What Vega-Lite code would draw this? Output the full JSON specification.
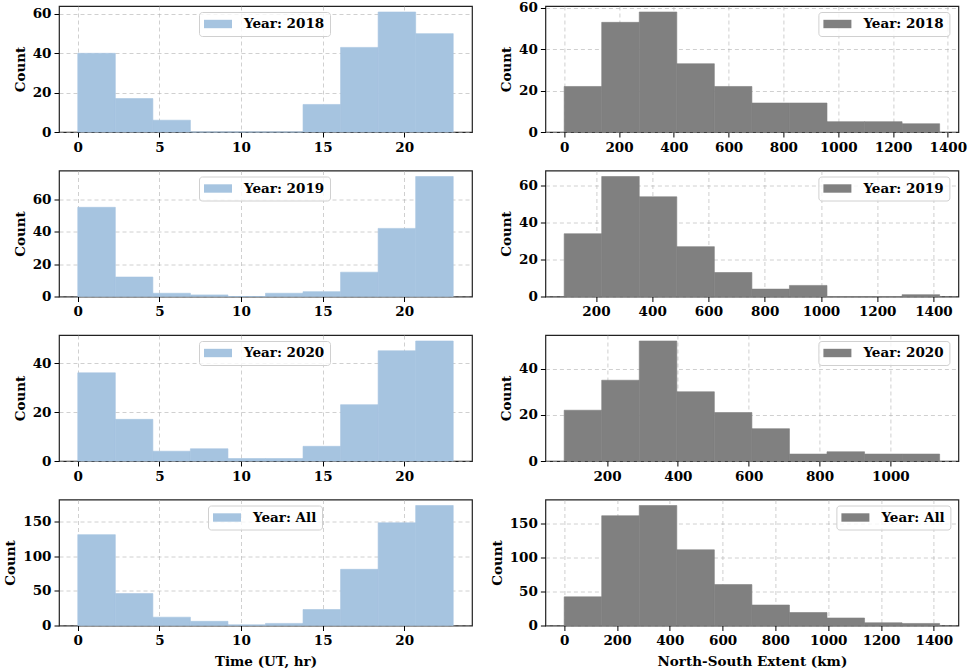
{
  "$schema": "https://vega.github.io/schema/vega-lite/v6.json",
  "padding": {"left": 3, "top": 0, "right": 2, "bottom": 0},
  "background": "white",
  "columns": 2,
  "spacing": {"row": 38.5, "column": 73.4},
  "bounds": "flush",
  "resolve": {"scale": {"x": "independent", "y": "independent", "color": "independent"}, "legend": {"color": "independent"}, "axis": {"x": "independent", "y": "independent"}},
  "config": {
    "font": "DejaVu Serif",
    "style": {"guide-label": {"font": "DejaVu Serif", "fontWeight": "bold"}, "guide-title": {"font": "DejaVu Serif", "fontWeight": "bold"}},
    "view": {"stroke": "#222222", "strokeWidth": 1.2},
    "axis": {"labelFont": "DejaVu Serif", "labelFontWeight": "bold", "labelFontSize": 13.5, "labelColor": "#000000", "titleFont": "DejaVu Serif", "titleFontWeight": "bold", "titleFontSize": 13.5, "titleColor": "#000000", "tickColor": "#000000", "tickSize": 5, "tickWidth": 1, "domain": false, "gridColor": "#b0b0b0", "gridDash": [4, 3], "gridOpacity": 0.6, "labelFlush": false, "labelOverlap": false, "labelPadding": 3, "titlePadding": 5, "format": "d"},
    "axisX": {"labelFont": "DejaVu Serif", "labelFontWeight": "bold", "titlePadding": 7},
    "axisY": {"labelFont": "DejaVu Serif", "labelFontWeight": "bold"},
    "legend": {"labelFont": "DejaVu Serif", "labelFontWeight": "bold", "labelFontSize": 13.5, "labelColor": "#000000", "symbolType": "M-2,-0.6H2V0.6H-2Z", "symbolSize": 196, "symbolOffset": 7, "labelOffset": 19, "symbolStrokeWidth": 0, "symbolOpacity": 1, "padding": 5, "strokeColor": "#d0d0d0", "cornerRadius": 3, "fillColor": "rgba(255,255,255,0.8)", "orient": "none", "title": null}
  },
  "concat": [
    {
      "width": 413, "height": 126,
      "data": {"values": [
        {"start": 0, "end": 2.3, "count": 40, "series": "Year: 2018"},
        {"start": 2.3, "end": 4.6, "count": 17, "series": "Year: 2018"},
        {"start": 4.6, "end": 6.9, "count": 6, "series": "Year: 2018"},
        {"start": 6.9, "end": 9.2, "count": 0, "series": "Year: 2018"},
        {"start": 9.2, "end": 11.5, "count": 0, "series": "Year: 2018"},
        {"start": 11.5, "end": 13.8, "count": 0, "series": "Year: 2018"},
        {"start": 13.8, "end": 16.1, "count": 14, "series": "Year: 2018"},
        {"start": 16.1, "end": 18.4, "count": 43, "series": "Year: 2018"},
        {"start": 18.4, "end": 20.7, "count": 61, "series": "Year: 2018"},
        {"start": 20.7, "end": 23, "count": 50, "series": "Year: 2018"}
      ]},
      "mark": {"type": "bar", "stroke": "#a6c4e0", "strokeWidth": 0.6},
      "encoding": {
        "x": {"field": "start", "type": "quantitative", "scale": {"domain": [-1.15, 24.15], "nice": false, "zero": false}, "axis": {"values": [0, 5, 10, 15, 20], "title": null}},
        "x2": {"field": "end"},
        "y": {"field": "count", "type": "quantitative", "scale": {"domain": [0, 64.05], "nice": false}, "axis": {"values": [0, 20, 40, 60], "title": "Count"}},
        "y2": {"datum": 0},
        "color": {"field": "series", "type": "nominal", "scale": {"range": ["#a6c4e0"]}, "legend": {"legendX": 140, "legendY": 6}}
      }
    },
    {
      "width": 413, "height": 126,
      "data": {"values": [
        {"start": 0, "end": 137, "count": 22, "series": "Year: 2018"},
        {"start": 137, "end": 274, "count": 53, "series": "Year: 2018"},
        {"start": 274, "end": 411, "count": 58, "series": "Year: 2018"},
        {"start": 411, "end": 548, "count": 33, "series": "Year: 2018"},
        {"start": 548, "end": 685, "count": 22, "series": "Year: 2018"},
        {"start": 685, "end": 822, "count": 14, "series": "Year: 2018"},
        {"start": 822, "end": 959, "count": 14, "series": "Year: 2018"},
        {"start": 959, "end": 1096, "count": 5, "series": "Year: 2018"},
        {"start": 1096, "end": 1233, "count": 5, "series": "Year: 2018"},
        {"start": 1233, "end": 1370, "count": 4, "series": "Year: 2018"}
      ]},
      "mark": {"type": "bar", "stroke": "#808080", "strokeWidth": 0.6},
      "encoding": {
        "x": {"field": "start", "type": "quantitative", "scale": {"domain": [-68.5, 1438.5], "nice": false, "zero": false}, "axis": {"values": [0, 200, 400, 600, 800, 1000, 1200, 1400], "title": null}},
        "x2": {"field": "end"},
        "y": {"field": "count", "type": "quantitative", "scale": {"domain": [0, 60.9], "nice": false}, "axis": {"values": [0, 20, 40, 60], "title": "Count"}},
        "y2": {"datum": 0},
        "color": {"field": "series", "type": "nominal", "scale": {"range": ["#808080"]}, "legend": {"legendX": 273, "legendY": 6}}
      }
    },
    {
      "width": 413, "height": 126,
      "data": {"values": [
        {"start": 0, "end": 2.3, "count": 55, "series": "Year: 2019"},
        {"start": 2.3, "end": 4.6, "count": 12, "series": "Year: 2019"},
        {"start": 4.6, "end": 6.9, "count": 2, "series": "Year: 2019"},
        {"start": 6.9, "end": 9.2, "count": 1, "series": "Year: 2019"},
        {"start": 9.2, "end": 11.5, "count": 0, "series": "Year: 2019"},
        {"start": 11.5, "end": 13.8, "count": 2, "series": "Year: 2019"},
        {"start": 13.8, "end": 16.1, "count": 3, "series": "Year: 2019"},
        {"start": 16.1, "end": 18.4, "count": 15, "series": "Year: 2019"},
        {"start": 18.4, "end": 20.7, "count": 42, "series": "Year: 2019"},
        {"start": 20.7, "end": 23, "count": 74, "series": "Year: 2019"}
      ]},
      "mark": {"type": "bar", "stroke": "#a6c4e0", "strokeWidth": 0.6},
      "encoding": {
        "x": {"field": "start", "type": "quantitative", "scale": {"domain": [-1.15, 24.15], "nice": false, "zero": false}, "axis": {"values": [0, 5, 10, 15, 20], "title": null}},
        "x2": {"field": "end"},
        "y": {"field": "count", "type": "quantitative", "scale": {"domain": [0, 77.7], "nice": false}, "axis": {"values": [0, 20, 40, 60], "title": "Count"}},
        "y2": {"datum": 0},
        "color": {"field": "series", "type": "nominal", "scale": {"range": ["#a6c4e0"]}, "legend": {"legendX": 140, "legendY": 6}}
      }
    },
    {
      "width": 413, "height": 126,
      "data": {"values": [
        {"start": 87, "end": 220.5, "count": 34, "series": "Year: 2019"},
        {"start": 220.5, "end": 354, "count": 65, "series": "Year: 2019"},
        {"start": 354, "end": 487.5, "count": 54, "series": "Year: 2019"},
        {"start": 487.5, "end": 621, "count": 27, "series": "Year: 2019"},
        {"start": 621, "end": 754.5, "count": 13, "series": "Year: 2019"},
        {"start": 754.5, "end": 888, "count": 4, "series": "Year: 2019"},
        {"start": 888, "end": 1021.5, "count": 6, "series": "Year: 2019"},
        {"start": 1021.5, "end": 1155, "count": 0, "series": "Year: 2019"},
        {"start": 1155, "end": 1288.5, "count": 0, "series": "Year: 2019"},
        {"start": 1288.5, "end": 1422, "count": 1, "series": "Year: 2019"}
      ]},
      "mark": {"type": "bar", "stroke": "#808080", "strokeWidth": 0.6},
      "encoding": {
        "x": {"field": "start", "type": "quantitative", "scale": {"domain": [20.25, 1488.75], "nice": false, "zero": false}, "axis": {"values": [200, 400, 600, 800, 1000, 1200, 1400], "title": null}},
        "x2": {"field": "end"},
        "y": {"field": "count", "type": "quantitative", "scale": {"domain": [0, 68.25], "nice": false}, "axis": {"values": [0, 20, 40, 60], "title": "Count"}},
        "y2": {"datum": 0},
        "color": {"field": "series", "type": "nominal", "scale": {"range": ["#808080"]}, "legend": {"legendX": 273, "legendY": 6}}
      }
    },
    {
      "width": 413, "height": 126,
      "data": {"values": [
        {"start": 0, "end": 2.3, "count": 36, "series": "Year: 2020"},
        {"start": 2.3, "end": 4.6, "count": 17, "series": "Year: 2020"},
        {"start": 4.6, "end": 6.9, "count": 4, "series": "Year: 2020"},
        {"start": 6.9, "end": 9.2, "count": 5, "series": "Year: 2020"},
        {"start": 9.2, "end": 11.5, "count": 1, "series": "Year: 2020"},
        {"start": 11.5, "end": 13.8, "count": 1, "series": "Year: 2020"},
        {"start": 13.8, "end": 16.1, "count": 6, "series": "Year: 2020"},
        {"start": 16.1, "end": 18.4, "count": 23, "series": "Year: 2020"},
        {"start": 18.4, "end": 20.7, "count": 45, "series": "Year: 2020"},
        {"start": 20.7, "end": 23, "count": 49, "series": "Year: 2020"}
      ]},
      "mark": {"type": "bar", "stroke": "#a6c4e0", "strokeWidth": 0.6},
      "encoding": {
        "x": {"field": "start", "type": "quantitative", "scale": {"domain": [-1.15, 24.15], "nice": false, "zero": false}, "axis": {"values": [0, 5, 10, 15, 20], "title": null}},
        "x2": {"field": "end"},
        "y": {"field": "count", "type": "quantitative", "scale": {"domain": [0, 51.45], "nice": false}, "axis": {"values": [0, 20, 40], "title": "Count"}},
        "y2": {"datum": 0},
        "color": {"field": "series", "type": "nominal", "scale": {"range": ["#a6c4e0"]}, "legend": {"legendX": 140, "legendY": 6}}
      }
    },
    {
      "width": 413, "height": 126,
      "data": {"values": [
        {"start": 79, "end": 185, "count": 22, "series": "Year: 2020"},
        {"start": 185, "end": 291, "count": 35, "series": "Year: 2020"},
        {"start": 291, "end": 397, "count": 52, "series": "Year: 2020"},
        {"start": 397, "end": 503, "count": 30, "series": "Year: 2020"},
        {"start": 503, "end": 609, "count": 21, "series": "Year: 2020"},
        {"start": 609, "end": 715, "count": 14, "series": "Year: 2020"},
        {"start": 715, "end": 821, "count": 3, "series": "Year: 2020"},
        {"start": 821, "end": 927, "count": 4, "series": "Year: 2020"},
        {"start": 927, "end": 1033, "count": 3, "series": "Year: 2020"},
        {"start": 1033, "end": 1139, "count": 3, "series": "Year: 2020"}
      ]},
      "mark": {"type": "bar", "stroke": "#808080", "strokeWidth": 0.6},
      "encoding": {
        "x": {"field": "start", "type": "quantitative", "scale": {"domain": [26, 1192], "nice": false, "zero": false}, "axis": {"values": [200, 400, 600, 800, 1000], "title": null}},
        "x2": {"field": "end"},
        "y": {"field": "count", "type": "quantitative", "scale": {"domain": [0, 54.6], "nice": false}, "axis": {"values": [0, 20, 40], "title": "Count"}},
        "y2": {"datum": 0},
        "color": {"field": "series", "type": "nominal", "scale": {"range": ["#808080"]}, "legend": {"legendX": 273, "legendY": 6}}
      }
    },
    {
      "width": 413, "height": 126,
      "data": {"values": [
        {"start": 0, "end": 2.3, "count": 131, "series": "Year: All"},
        {"start": 2.3, "end": 4.6, "count": 46, "series": "Year: All"},
        {"start": 4.6, "end": 6.9, "count": 12, "series": "Year: All"},
        {"start": 6.9, "end": 9.2, "count": 6, "series": "Year: All"},
        {"start": 9.2, "end": 11.5, "count": 1, "series": "Year: All"},
        {"start": 11.5, "end": 13.8, "count": 3, "series": "Year: All"},
        {"start": 13.8, "end": 16.1, "count": 23, "series": "Year: All"},
        {"start": 16.1, "end": 18.4, "count": 81, "series": "Year: All"},
        {"start": 18.4, "end": 20.7, "count": 148, "series": "Year: All"},
        {"start": 20.7, "end": 23, "count": 173, "series": "Year: All"}
      ]},
      "mark": {"type": "bar", "stroke": "#a6c4e0", "strokeWidth": 0.6},
      "encoding": {
        "x": {"field": "start", "type": "quantitative", "scale": {"domain": [-1.15, 24.15], "nice": false, "zero": false}, "axis": {"values": [0, 5, 10, 15, 20], "title": "Time (UT, hr)"}},
        "x2": {"field": "end"},
        "y": {"field": "count", "type": "quantitative", "scale": {"domain": [0, 181.65], "nice": false}, "axis": {"values": [0, 50, 100, 150], "title": "Count"}},
        "y2": {"datum": 0},
        "color": {"field": "series", "type": "nominal", "scale": {"range": ["#a6c4e0"]}, "legend": {"legendX": 149, "legendY": 6}}
      }
    },
    {
      "width": 413, "height": 126,
      "data": {"values": [
        {"start": 0, "end": 142.2, "count": 42, "series": "Year: All"},
        {"start": 142.2, "end": 284.4, "count": 161, "series": "Year: All"},
        {"start": 284.4, "end": 426.6, "count": 176, "series": "Year: All"},
        {"start": 426.6, "end": 568.8, "count": 111, "series": "Year: All"},
        {"start": 568.8, "end": 711, "count": 60, "series": "Year: All"},
        {"start": 711, "end": 853.2, "count": 30, "series": "Year: All"},
        {"start": 853.2, "end": 995.4, "count": 19, "series": "Year: All"},
        {"start": 995.4, "end": 1137.6, "count": 11, "series": "Year: All"},
        {"start": 1137.6, "end": 1279.8, "count": 4, "series": "Year: All"},
        {"start": 1279.8, "end": 1422, "count": 3, "series": "Year: All"}
      ]},
      "mark": {"type": "bar", "stroke": "#808080", "strokeWidth": 0.6},
      "encoding": {
        "x": {"field": "start", "type": "quantitative", "scale": {"domain": [-71.1, 1493.1], "nice": false, "zero": false}, "axis": {"values": [0, 200, 400, 600, 800, 1000, 1200, 1400], "title": "North-South Extent (km)"}},
        "x2": {"field": "end"},
        "y": {"field": "count", "type": "quantitative", "scale": {"domain": [0, 184.8], "nice": false}, "axis": {"values": [0, 50, 100, 150], "title": "Count"}},
        "y2": {"datum": 0},
        "color": {"field": "series", "type": "nominal", "scale": {"range": ["#808080"]}, "legend": {"legendX": 291, "legendY": 6}}
      }
    }
  ]
}
